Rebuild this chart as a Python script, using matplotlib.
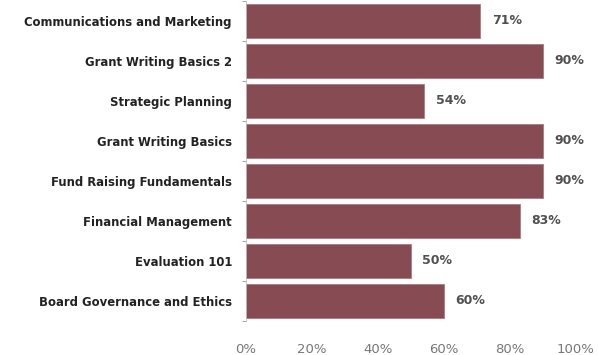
import matplotlib
matplotlib.use('Agg')
import matplotlib.pyplot as plt
import numpy as np
from matplotlib import ticker

courses = ['Communications and Marketing', 'Grant Writing Basics 2', 'Strategic Planning',
           'Grant Writing Basics', 'Fund Raising Fundamentals', 'Financial Management',
           'Evaluation 101', 'Board Governance and Ethics']
pct = [71, 90, 54, 90, 90, 83, 50, 60]
xticks = [0, 20, 40, 60, 80, 100]

bar_color = '#874c53'

fig = plt.figure(figsize=(5.98, 3.55), dpi=100)
ax = fig.add_axes([0.411, 0.097, 0.552, 0.901])

y = np.arange(len(courses))
ax.barh(y, pct, height=0.85, color=bar_color, edgecolor='#a77a80', linewidth=0.6)
ax.set_ylim(len(courses) - 0.5, -0.5)
ax.set_xlim(0, 100)

for yi, v in zip(y, pct):
    ax.text(v + 3.5, yi, '%d%%' % v, va='center', ha='left', fontsize=9,
            fontweight='bold', color='#505050')

ax.set_yticks(y)
ax.set_yticklabels(courses, fontsize=8.4, fontweight='bold', color='#222222')
ax.set_yticks(np.arange(-0.5, len(courses), 1), minor=True)
ax.tick_params(axis='y', which='major', length=0, pad=10)
ax.tick_params(axis='y', which='minor', length=3, color='#999999', width=0.6)

ax.set_xticks(xticks)
ax.xaxis.set_major_formatter(ticker.FuncFormatter(lambda v, p: '%d%%' % v))
ax.tick_params(axis='x', length=0, labelsize=9.5, colors='#777777', pad=16)

for s in ['top', 'right', 'bottom']:
    ax.spines[s].set_visible(False)
ax.spines['left'].set_color('#bbbbbb')
ax.spines['left'].set_linewidth(0.6)

plt.savefig('out.png', dpi=100)
